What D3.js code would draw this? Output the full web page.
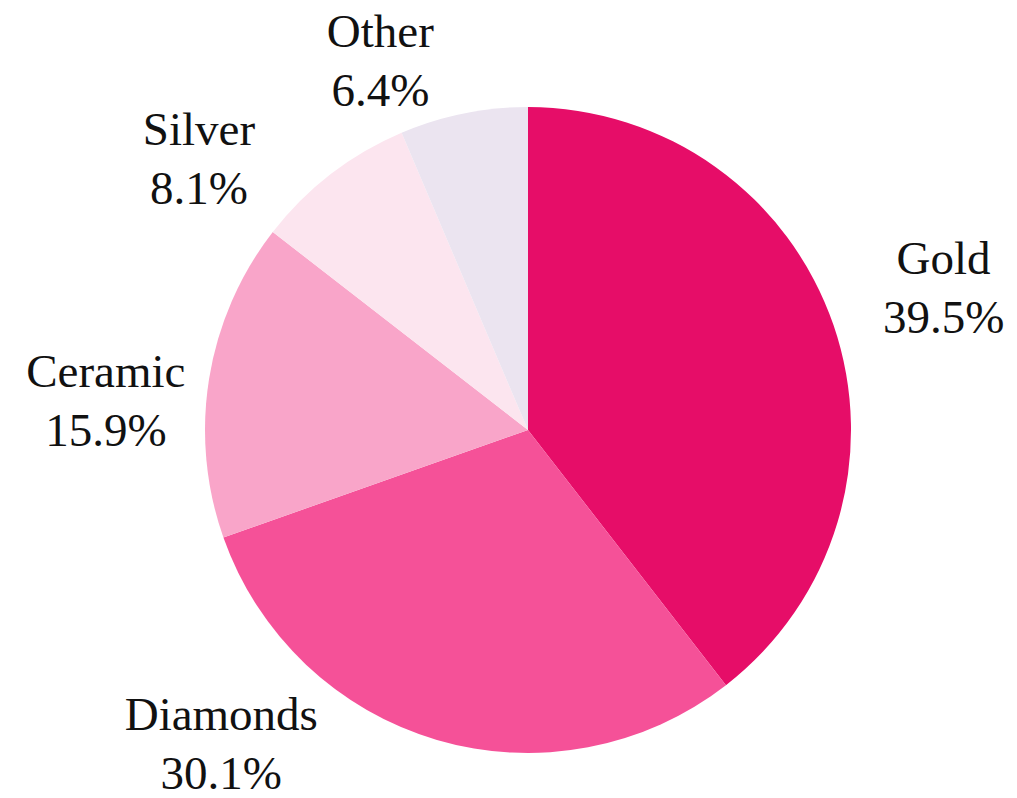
<!DOCTYPE html>
<html>
<head>
<meta charset="utf-8">
<script src="https://cdn.jsdelivr.net/npm/d3@7"></script>
<style>
  html, body { margin: 0; padding: 0; background: #fff; }
  svg text { font-family: "Liberation Serif", "DejaVu Serif", serif; fill: #111; }
</style>
</head>
<body>
<div id="chart"></div>
<script>
// data
const categories = ["Gold", "Diamonds", "Ceramic", "Silver", "Other"];
const shares = [39.5, 30.1, 15.9, 8.1, 6.4];
const colors = ["#e60d68", "#f55198", "#f9a5c9", "#fce5ef", "#ebe4f0"];

// label placement: angle nudge (deg) and distance factor relative to radius
const labelNudge = { Gold: 0, Diamonds: 27.9, Ceramic: -5.3, Silver: -12.9, Other: -10.3 };
const labelDist = { Gold: 1.36, Diamonds: 1.36, Ceramic: 1.31, Silver: 1.32, Other: 1.23 };

const width = 1017, height = 798;
const cx = 528, cy = 430, radius = 323;
const fontSize = 47, lineGap = 59;

const svg = d3.select("#chart").append("svg")
    .attr("width", width)
    .attr("height", height);

const g = svg.append("g").attr("transform", `translate(${cx},${cy})`);

const pie = d3.pie().sort(null).value(d => d.value);
const arc = d3.arc().innerRadius(0).outerRadius(radius);

const rows = categories.map((c, i) => ({ name: c, value: shares[i], color: colors[i] }));
const arcs = pie(rows);

g.selectAll("path.slice")
    .data(arcs)
    .enter()
    .append("path")
    .attr("class", "slice")
    .attr("d", arc)
    .attr("fill", d => d.data.color);

const label = g.selectAll("g.label")
    .data(arcs)
    .enter()
    .append("g")
    .attr("class", "label")
    .attr("transform", d => {
        const mid = (d.startAngle + d.endAngle) / 2 + labelNudge[d.data.name] * Math.PI / 180;
        const r = radius * labelDist[d.data.name];
        return `translate(${Math.sin(mid) * r},${-Math.cos(mid) * r})`;
    });

label.append("text")
    .attr("text-anchor", "middle")
    .attr("y", -14)
    .attr("font-size", fontSize)
    .text(d => d.data.name);

label.append("text")
    .attr("text-anchor", "middle")
    .attr("y", -14 + lineGap)
    .attr("font-size", fontSize)
    .text(d => d.data.value.toFixed(1) + "%");
</script>
</body>
</html>
